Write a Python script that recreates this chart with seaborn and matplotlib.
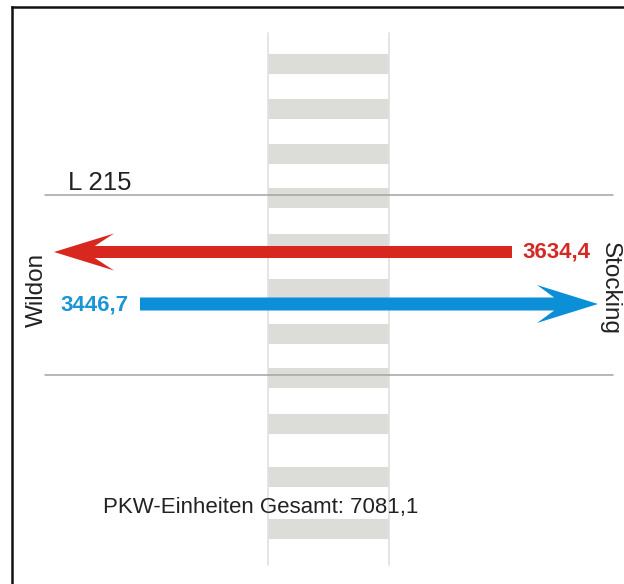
import matplotlib
matplotlib.use("Agg")
import matplotlib.pyplot as plt
import seaborn as sns

# flows on the L 215 (PKW-Einheiten)
directions = ["Wildon", "Stocking"]
flow_values = [3634.4, 3446.7]
flow_labels = ["3634,4", "3446,7"]
total_label = "PKW-Einheiten Gesamt: 7081,1"
road_name = "L 215"

# layout in pixel units (y grows downwards)
stripe_tops = [54, 99, 144, 188, 234, 279, 324, 368, 414, 467, 519]
stripe_height = 20
crossing_x = (268, 389)
road_edges_y = [195, 375]

red = "#d8271e"
blue = "#0b8fd7"

sns.set_theme(style="white")
plt.rcParams["font.family"] = ["Liberation Sans", "DejaVu Sans"]

fig = plt.figure(figsize=(6.24, 5.84), dpi=100)
ax = fig.add_axes([12 / 624, 0, 1 - 12 / 624, 577 / 584])
ax.set_xlim(12, 624)
ax.set_ylim(584, 7)
ax.set_xticks([])
ax.set_yticks([])
for side in ["right", "bottom"]:
    ax.spines[side].set_visible(False)
for side in ["left", "top"]:
    ax.spines[side].set_color("#111111")
    ax.spines[side].set_linewidth(1.8)

# zebra crossing
for top in stripe_tops:
    ax.fill_between(crossing_x, top, top + stripe_height, color="#dcdcd8", lw=0, zorder=1)
for x in crossing_x:
    ax.plot([x, x], [33, 565], color="#e0e0e0", lw=1.2, zorder=1)

# road edges
for y in road_edges_y:
    ax.plot([45, 613], [y, y], color="#a3a3a3", lw=1.1, zorder=2)

# direction arrows
ax.arrow(512, 252, 54 - 512, 0, width=12, head_width=37, head_length=60,
         overhang=0.32, length_includes_head=True, color=red, lw=0, zorder=3)
ax.arrow(140, 304, 598 - 140, 0, width=13, head_width=38, head_length=61,
         overhang=0.28, length_includes_head=True, color=blue, lw=0, zorder=3)

# labels
ax.text(522, 252, flow_labels[0], color="#d42a26", fontsize=16, fontweight="bold",
        ha="left", va="center", zorder=4)
ax.text(129, 305, flow_labels[1], color="#1b95d5", fontsize=16, fontweight="bold",
        ha="right", va="center", zorder=4)
ax.text(37, 290, directions[0], color="#222222", fontsize=17.5, rotation=90,
        ha="center", va="center")
ax.text(610, 288, directions[1], color="#222222", fontsize=17.5, rotation=-90,
        ha="center", va="center")
ax.text(68, 183, road_name, color="#222222", fontsize=18.5, ha="left", va="center")
ax.text(261, 507, total_label, color="#222222", fontsize=16, ha="center", va="center")

fig.savefig("out.png", dpi=100)
